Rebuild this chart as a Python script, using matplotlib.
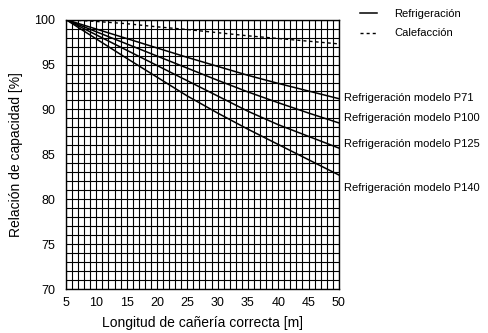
import numpy as np
import matplotlib
matplotlib.use("Agg")
import matplotlib.pyplot as plt

plt.rcParams['font.family'] = ['Liberation Sans', 'DejaVu Sans']

# pipe length [m]
longitud = [5, 10, 15, 20, 25, 30, 35, 40, 45, 50]

# capacity ratio [%]
p71 = [100, 98.95, 97.9, 96.85, 95.8, 94.8, 93.8, 92.9, 92.05, 91.2]
p100 = [100, 98.65, 97.3, 95.95, 94.6, 93.25, 91.95, 90.75, 89.6, 88.5]
p125 = [100, 98.3, 96.6, 94.9, 93.2, 91.5, 89.8, 88.3, 87.0, 85.7]
p140 = [100, 97.85, 95.7, 93.6, 91.5, 89.6, 87.8, 86.1, 84.4, 82.7]
calefaccion = [100, 99.8, 99.55, 99.2, 98.9, 98.55, 98.2, 97.9, 97.6, 97.3]

etiquetas = ["Refrigeración modelo P71", "Refrigeración modelo P100",
             "Refrigeración modelo P125", "Refrigeración modelo P140"]
etiqueta_y = [91.3, 89.0, 86.2, 81.2]

fig = plt.figure(figsize=(4.89, 3.33), dpi=100)
ax = fig.add_axes([0.135, 0.132, 0.558, 0.809])

# 1 m x 1 % grid
ax.set_xticks(np.arange(5, 51, 1), minor=True)
ax.set_yticks(np.arange(70, 101, 1), minor=True)
ax.grid(which='both', color='black', linewidth=0.8)
ax.set_axisbelow(True)

for serie in [p71, p100, p125, p140]:
    ax.plot(longitud, serie, color='black', linewidth=1.1)
ax.plot(longitud, calefaccion, color='black', linewidth=1.0, dashes=(2.2, 2.2))

for txt, yv in zip(etiquetas, etiqueta_y):
    ax.text(50.9, yv, txt, fontsize=8, va='center', ha='left', clip_on=False)

ax.set_xlim(5, 50)
ax.set_ylim(70, 100)
ax.set_xticks(range(5, 51, 5))
ax.set_yticks(range(70, 101, 5))
ax.tick_params(which='both', length=0)
ax.tick_params(axis='x', labelsize=9, pad=6)
ax.tick_params(axis='y', labelsize=9, pad=8)
for s in ax.spines.values():
    s.set_linewidth(1.0)

ax.set_xlabel("Longitud de cañería correcta [m]", fontsize=10, labelpad=5)
ax.set_ylabel("Relación de capacidad [%]", fontsize=10, labelpad=8)

# legend
h1, = ax.plot([], [], color='black', linewidth=1.1, label='Refrigeración')
h2, = ax.plot([], [], color='black', linewidth=1.0, dashes=(2.2, 2.2), label='Calefacción')
fig.legend(handles=[h1, h2], loc='upper left', bbox_to_anchor=(0.715, 1.003),
           frameon=False, fontsize=8, handlelength=1.6, handletextpad=1.5,
           labelspacing=0.85)

fig.savefig("out.png", dpi=100)
